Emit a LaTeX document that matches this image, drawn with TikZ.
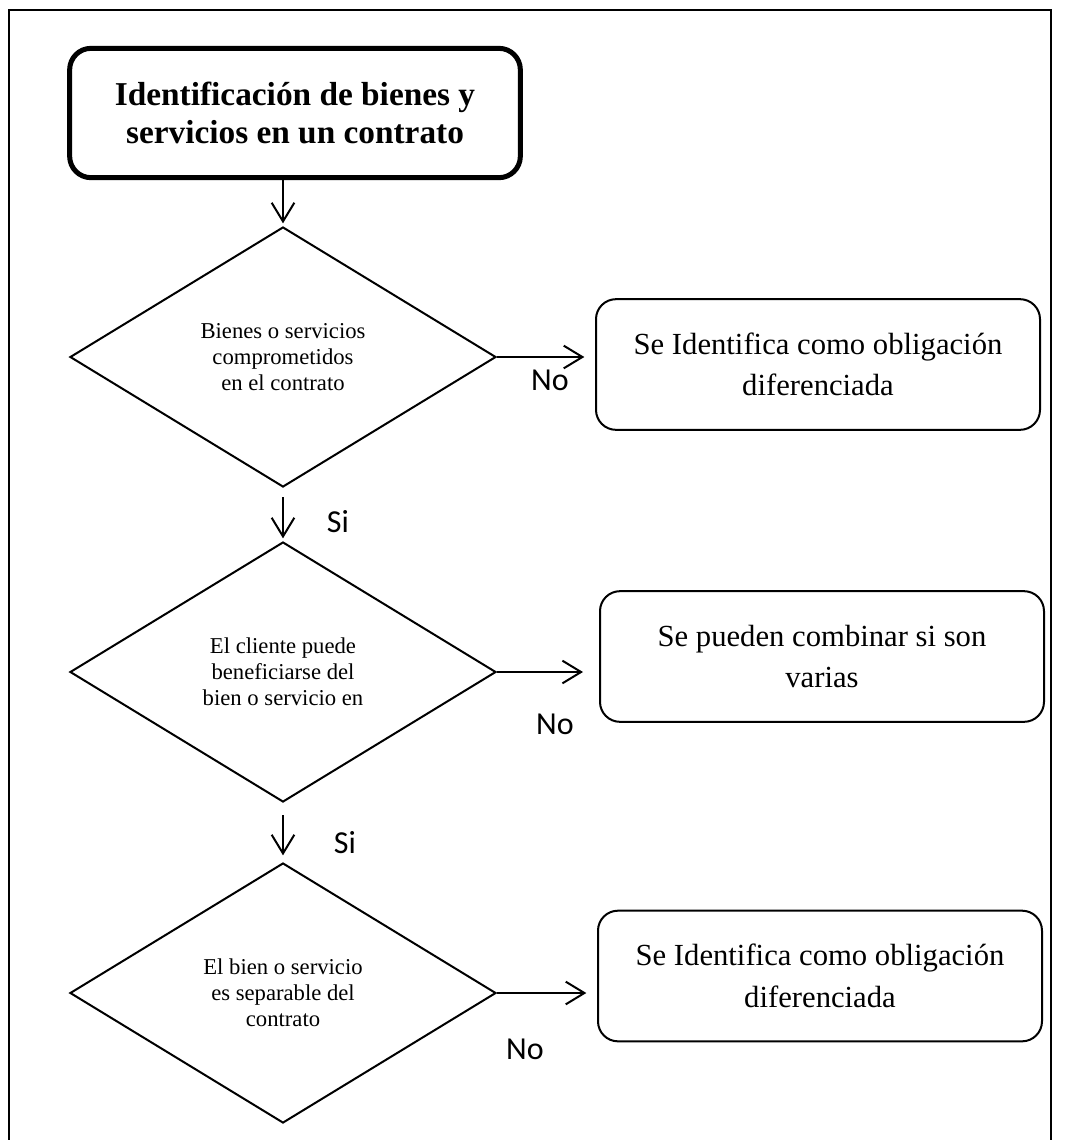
\documentclass[tikz,border=0pt]{standalone}
\usepackage{fontspec}
\setmainfont{Liberation Serif}
\newfontfamily\labelfont{Carlito}
\usetikzlibrary{arrows.meta,shapes.geometric}
\begin{document}
\begin{tikzpicture}[x=0.75pt,y=-0.75pt,
  frameline/.style={line width=1.5pt},
  conn/.style={line width=1.5pt,-{Straight Barb[length=14pt,width=17pt]}},
  startbox/.style={draw,line width=3.75pt,rounded corners=16pt,minimum width=338pt,minimum height=97pt,inner sep=0pt,align=center,font=\bfseries\fontsize{25}{28}\selectfont},
  decision/.style={draw,diamond,line width=1.5pt,minimum width=319.5pt,minimum height=195pt,inner sep=0pt,align=center,font=\fontsize{17}{19.5}\selectfont},
  resultbox/.style={draw,line width=1.5pt,rounded corners=15pt,minimum width=333pt,minimum height=98pt,inner sep=0pt,align=center,font=\fontsize{23}{31}\selectfont},
  answer/.style={font=\labelfont\fontsize{24}{28}\selectfont,inner sep=0pt}
]
\useasboundingbox (0,0) rectangle (1067,1140);
\draw[frameline] (9,10) rectangle (1051,1200);

\node[startbox] (top) at (295,113) {Identificación de bienes y\\servicios en un contrato};

\node[decision] (d1) at (283,357) {Bienes o servicios\\comprometidos\\en el contrato};
\node[decision] (d2) at (283,672) {El cliente puede\\beneficiarse del\\bien o servicio en};
\node[decision] (d3) at (283,993) {El bien o servicio\\es separable del\\contrato};

\node[resultbox] (b1) at (818,364.5) {Se Identifica como obligación\\diferenciada};
\node[resultbox] (b2) at (822,656.5) {Se pueden combinar si son\\varias};
\node[resultbox] (b3) at (820,976) {Se Identifica como obligación\\diferenciada};

\draw[conn,shorten >=2pt] (top.south -| d1.north) -- (d1.north);
\draw[conn,shorten <=7pt,shorten >=2pt] (d1.south) -- (d2.north);
\draw[conn,shorten <=9pt,shorten >=5pt] (d2.south) -- (d3.north);

\draw[conn,shorten >=8pt] (d1.east) -- (d1.east -| b1.west);
\draw[conn,shorten >=12pt] (d2.east) -- (d2.east -| b2.west);
\draw[conn,shorten >=8pt] (d3.east) -- (d3.east -| b3.west);

\node[answer] (no1) at (550,380) {No};
\node[answer] (no2) at (555,724) {No};
\node[answer] (no3) at (525,1049) {No};
\node[answer] (si1) at (338,522) {Si};
\node[answer] (si2) at (345,843) {Si};
\end{tikzpicture}
\end{document}
